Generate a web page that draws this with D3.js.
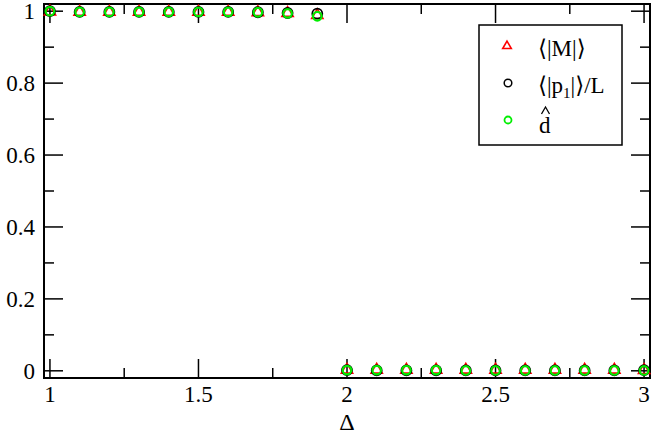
<!DOCTYPE html>
<html>
<head>
<meta charset="utf-8">
<script src="https://cdn.jsdelivr.net/npm/d3@7"></script>
<style>
  html, body { margin: 0; padding: 0; background: #fff; }
  svg { display: block; }
  text { font-family: "Liberation Serif", "DejaVu Serif", serif; }
</style>
</head>
<body>
<svg id="chart" width="654" height="436"></svg>
<script>
// ---- data ----
const delta = [1.0, 1.1, 1.2, 1.3, 1.4, 1.5, 1.6, 1.7, 1.8, 1.9, 2.0, 2.1, 2.2, 2.3, 2.4, 2.5, 2.6, 2.7, 2.8, 2.9, 3.0];
const magM = [1.0, 0.999, 0.999, 0.999, 0.999, 0.999, 0.999, 0.998, 0.996, 0.990, 0.004, 0.004, 0.004, 0.004, 0.004, 0.004, 0.004, 0.004, 0.004, 0.004, 0.003];
const p1L  = [1.0, 0.998, 0.998, 0.998, 0.998, 0.998, 0.998, 0.997, 0.995, 0.993, 0.002, 0.001, 0.001, 0.001, 0.001, 0.001, 0.001, 0.001, 0.001, 0.001, 0.002];
const dHat = [1.0, 0.998, 0.998, 0.998, 0.998, 0.998, 0.998, 0.997, 0.994, 0.986, 0.002, 0.002, 0.002, 0.002, 0.001, 0.001, 0.001, 0.001, 0.001, 0.001, 0.001];
const xTicks = [1, 1.5, 2, 2.5, 3];
const xTickLabels = ["1", "1.5", "2", "2.5", "3"];
const xMinor = [1.25, 1.75, 2.25, 2.75];
const yTicks = [0, 0.2, 0.4, 0.6, 0.8, 1];
const yTickLabels = ["0", "0.2", "0.4", "0.6", "0.8", "1"];
const yMinor = [0.1, 0.3, 0.5, 0.7, 0.9];
const legendLabels = ["⟨|M|⟩", "⟨|p1|⟩/L", "d"];

// ---- layout ----
const L = 44, R = 650, T = 4, B = 378;
const x = d3.scaleLinear().domain([0.98, 3.02]).range([L, R]);
const y = d3.scaleLinear().domain([-0.02, 1.02]).range([B, T]);
const svg = d3.select("#chart");
const FS = 23;

// ticks (inward on all four sides)
const majLen = 19, minLen = 10;
const tg = svg.append("g").attr("stroke", "#000").attr("stroke-width", 1.5);
xTicks.forEach(v => {
  tg.append("line").attr("x1", x(v)).attr("x2", x(v)).attr("y1", B).attr("y2", B - majLen);
  tg.append("line").attr("x1", x(v)).attr("x2", x(v)).attr("y1", T).attr("y2", T + majLen);
});
xMinor.forEach(v => {
  tg.append("line").attr("x1", x(v)).attr("x2", x(v)).attr("y1", B).attr("y2", B - minLen);
  tg.append("line").attr("x1", x(v)).attr("x2", x(v)).attr("y1", T).attr("y2", T + minLen);
});
yTicks.forEach(v => {
  tg.append("line").attr("y1", y(v)).attr("y2", y(v)).attr("x1", L).attr("x2", L + majLen);
  tg.append("line").attr("y1", y(v)).attr("y2", y(v)).attr("x1", R).attr("x2", R - majLen);
});
yMinor.forEach(v => {
  tg.append("line").attr("y1", y(v)).attr("y2", y(v)).attr("x1", L).attr("x2", L + minLen);
  tg.append("line").attr("y1", y(v)).attr("y2", y(v)).attr("x1", R).attr("x2", R - minLen);
});

// frame
svg.append("rect").attr("x", L).attr("y", T).attr("width", R - L).attr("height", B - T)
  .attr("fill", "none").attr("stroke", "#000").attr("stroke-width", 2);

// tick labels
svg.append("g").selectAll("text").data(xTicks).join("text")
  .attr("x", d => x(d)).attr("y", 402).attr("text-anchor", "middle")
  .attr("font-size", FS).text((d, i) => xTickLabels[i]);
svg.append("g").selectAll("text").data(yTicks).join("text")
  .attr("x", 35).attr("y", d => y(d) + 8).attr("text-anchor", "end")
  .attr("font-size", FS).text((d, i) => yTickLabels[i]);

// axis title
svg.append("text").attr("x", x(2)).attr("y", 430).attr("text-anchor", "middle")
  .attr("font-size", 24).text("Δ");

// markers
const tri = d3.symbol().type(d3.symbolTriangle).size(55);
svg.append("g").selectAll("path").data(delta).join("path")
  .attr("d", tri)
  .attr("transform", (d, i) => `translate(${x(d)},${y(magM[i]) + 0.5})`)
  .attr("fill", "none").attr("stroke", "#ff0000").attr("stroke-width", 1.6);
svg.append("g").selectAll("circle").data(delta).join("circle")
  .attr("cx", d => x(d)).attr("cy", (d, i) => y(p1L[i]))
  .attr("r", 5).attr("fill", "none").attr("stroke", "#000").attr("stroke-width", 1.8);
svg.append("g").selectAll("circle").data(delta).join("circle")
  .attr("cx", d => x(d)).attr("cy", (d, i) => y(dHat[i]))
  .attr("r", 4.3).attr("fill", "none").attr("stroke", "#00ee00").attr("stroke-width", 2.2);

// legend
const lg = svg.append("g");
lg.append("rect").attr("x", 479).attr("y", 25).attr("width", 143).attr("height", 120)
  .attr("fill", "#fff").attr("stroke", "#000").attr("stroke-width", 1.5);
lg.append("path").attr("d", d3.symbol().type(d3.symbolTriangle).size(32))
  .attr("transform", "translate(507,46)")
  .attr("fill", "none").attr("stroke", "#ff0000").attr("stroke-width", 1.6);
lg.append("circle").attr("cx", 508).attr("cy", 83).attr("r", 3.8)
  .attr("fill", "none").attr("stroke", "#000").attr("stroke-width", 1.5);
lg.append("circle").attr("cx", 508).attr("cy", 120).attr("r", 3.5)
  .attr("fill", "none").attr("stroke", "#00ee00").attr("stroke-width", 1.8);

lg.append("text").attr("x", 538).attr("y", 56).attr("font-size", FS).text(legendLabels[0]);
const t2 = lg.append("text").attr("x", 538).attr("y", 93).attr("font-size", FS);
t2.append("tspan").text("⟨|p");
t2.append("tspan").attr("font-size", 15).attr("dy", 5).text("1");
t2.append("tspan").attr("dy", -5).text("|⟩/L");
lg.append("text").attr("x", 539).attr("y", 133).attr("font-size", FS).text(legendLabels[2]);
// hat over d
lg.append("path").attr("d", "M541.5,114 L545.5,107 L549.5,114")
  .attr("fill", "none").attr("stroke", "#000").attr("stroke-width", 1.3);
</script>
</body>
</html>
